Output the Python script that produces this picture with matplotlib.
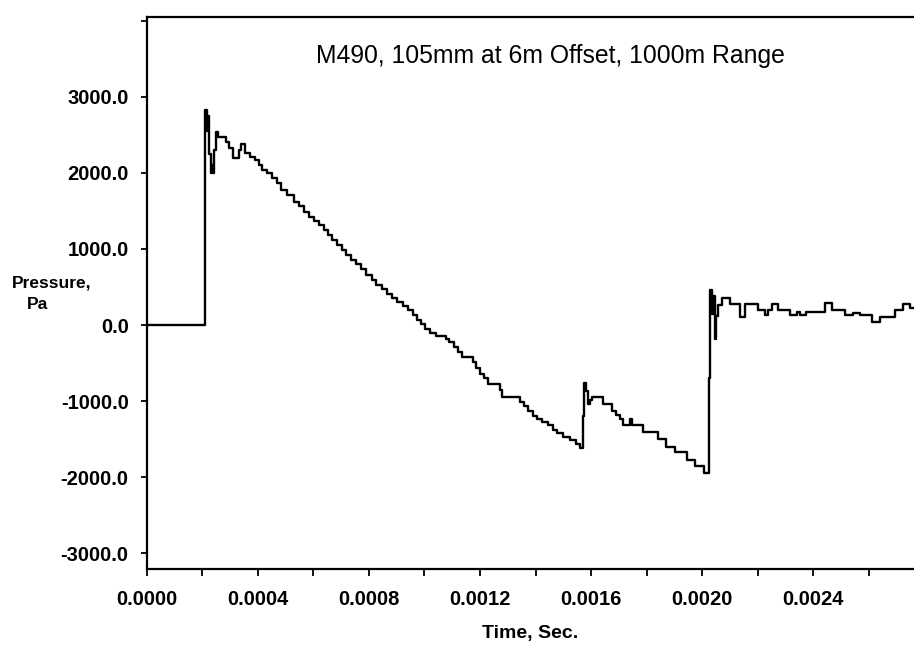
import numpy as np
import matplotlib
matplotlib.use("Agg")
import matplotlib.pyplot as plt

plt.rcParams['font.family'] = ['Liberation Sans', 'DejaVu Sans']

# pressure record: step start times (microseconds) and held level (Pa)
t_us = [0, 211, 218, 222, 226, 231, 236, 240, 244, 249, 257, 287, 298, 312, 334, 340,
        355, 373, 391, 405.5, 416.3, 434.3, 452.3, 470.3, 484.7, 506.4, 531.6, 549.6,
        567.6, 585.7, 603.7, 621.7, 639.7, 654.1, 668.5, 686.6, 704.6, 719.0, 737.0,
        755.0, 773.1, 791.1, 812.7, 827.1, 848.7, 866.8, 884.8, 902.8, 924.4, 942.4,
        960.5, 974.9, 989.3, 1003.7, 1021.7, 1039.8, 1075.8, 1086.6, 1104.6, 1119.0,
        1133.5, 1173.1, 1183.9, 1198.3, 1212.7, 1227.2, 1270.4, 1277.6, 1342.5, 1356.9,
        1371.3, 1389.3, 1403.8, 1421.8, 1443.4, 1461.4, 1475.8, 1497.4, 1522.7, 1544.3,
        1558.7, 1569.6, 1574.9, 1582.2, 1589.4, 1596.6, 1602.0, 1641.6, 1674.1, 1688.5,
        1702.9, 1713.7, 1738.9, 1746.1, 1785.8, 1839.9, 1868.7, 1901.1, 1944.4, 1973.2,
        2005.6, 2023.7, 2029.1, 2034.4, 2039.9, 2045.3, 2050.7, 2057.2, 2069.5, 2099.3,
        2135.4, 2153.4, 2201.3, 2225.5, 2237.4, 2249.6, 2273.4, 2315.6, 2339.7, 2351.6,
        2373.2, 2441.7, 2465.9, 2513.8, 2543.7, 2567.9, 2610.0, 2639.9, 2694.0, 2723.9,
        2748.1, 2762.5]
p_pa = [0, 2830, 2550, 2750, 2250, 2000, 2100, 2000, 2300, 2540, 2470, 2400, 2330, 2190, 2300, 2380,
        2260, 2210, 2170, 2100, 2040, 2000, 1930, 1860, 1780, 1710, 1620, 1560,
        1490, 1420, 1360, 1310, 1250, 1180, 1120, 1050, 990, 920, 860,
        800, 730, 660, 590, 530, 470, 410, 350, 300, 250, 200,
        130, 70, 10, -50, -110, -150, -180, -220, -290, -360,
        -420, -490, -570, -640, -700, -775, -860, -945, -1010, -1070,
        -1130, -1190, -1230, -1280, -1320, -1380, -1420, -1470, -1510, -1560,
        -1610, -1200, -760, -870, -1040, -980, -940, -1040, -1130, -1180,
        -1230, -1310, -1230, -1310, -1400, -1500, -1600, -1665, -1775, -1855,
        -1950, -700, 460, 150, 380, -190, 120, 265, 350, 275,
        110, 275, 200, 130, 200, 280, 200, 130, 175, 130,
        175, 290, 200, 130, 160, 130, 45, 110, 200, 280,
        220, 220]

x_ticks = [0.0, 0.0002, 0.0004, 0.0006, 0.0008, 0.0010, 0.0012, 0.0014,
           0.0016, 0.0018, 0.0020, 0.0022, 0.0024, 0.0026]
x_labels = ['0.0000', '', '0.0004', '', '0.0008', '', '0.0012', '',
            '0.0016', '', '0.0020', '', '0.0024', '']
y_ticks = [-3000, -2000, -1000, 0, 1000, 2000, 3000, 4000]
y_labels = ['-3000.0', '-2000.0', '-1000.0', '0.0', '1000.0', '2000.0', '3000.0', '']

title = 'M490, 105mm at 6m Offset, 1000m Range'

W, H = 914, 647
fig = plt.figure(figsize=(W / 100, H / 100), dpi=100)
ax = fig.add_axes([146.7 / W, 1 - 569 / H, 1 - 146.7 / W, (569 - 17) / H])

t = np.array(t_us) * 1e-6
ax.step(t, p_pa, where='post', color='black', lw=1.7)

ax.set_xlim(0, 0.0027625)
ax.set_ylim(-3206, 4047)
ax.spines['right'].set_visible(False)
for s in ['left', 'bottom', 'top']:
    ax.spines[s].set_linewidth(1.6)

ax.set_xticks(x_ticks)
ax.set_xticklabels(x_labels)
ax.set_yticks(y_ticks)
ax.set_yticklabels(y_labels)
ax.tick_params(axis='x', direction='out', length=5, width=1.3, labelsize=14.5, pad=10)
ax.tick_params(axis='y', direction='out', length=4, width=1.3, labelsize=14.5, pad=9)
for lbl in ax.get_xticklabels() + ax.get_yticklabels():
    lbl.set_fontweight('bold')

fig.text(550 / W, 1 - 63 / H, title, ha='center', va='baseline', fontsize=17.8)
# two-line y label, second line indented
fig.text(12 / W, 1 - 288 / H, 'Pressure,', ha='left', va='baseline',
         fontsize=12.5, fontweight='bold')
fig.text(27 / W, 1 - 309 / H, 'Pa', ha='left', va='baseline',
         fontsize=12.5, fontweight='bold')
fig.text(530 / W, 1 - 638 / H, 'Time, Sec.', ha='center', va='baseline',
         fontsize=14, fontweight='bold')

fig.savefig('out.png', dpi=100)
